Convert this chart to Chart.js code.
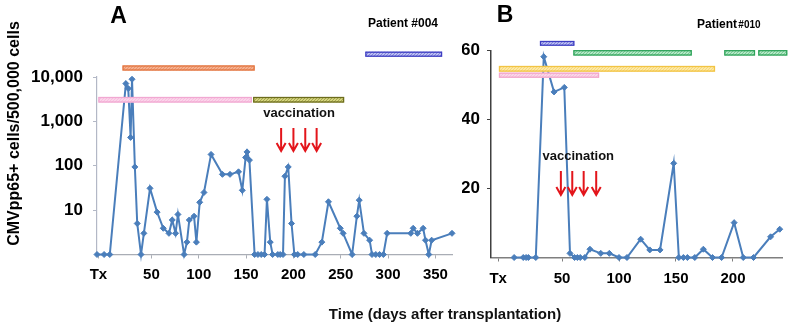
<!DOCTYPE html>
<html><head><meta charset="utf-8">
<script src="https://cdn.jsdelivr.net/npm/chart.js@4.4.1/dist/chart.umd.min.js"></script>
<style>
html,body{margin:0;padding:0;background:#fff;}
#wrap{position:relative;width:793px;height:327px;overflow:hidden;}
#cA{position:absolute;left:0;top:0;}
#cB{position:absolute;left:462px;top:0;}
#xt{position:absolute;top:305px;left:445px;transform:translateX(-50%);font:bold 15px 'Liberation Sans',Arial,sans-serif;white-space:nowrap;color:#111;}
</style></head><body>
<div id="wrap">
<canvas id="cA" width="470" height="327"></canvas>
<canvas id="cB" width="331" height="327"></canvas>
<div id="xt">Time (days after transplantation)</div>
</div>
<script>
// ---------- DATA ----------
// Patient #004 (panel A): day after transplantation, CMVpp65+ cells / 500,000 cells (0 = below detection)
const daysA = [-7.5, 0, 6, 23, 25.5, 28, 29.5, 32.5, 35, 39, 42, 48.5, 56, 62.5, 68.5, 72, 75.5, 78, 84.5, 87.5, 90, 95, 97.5, 101, 105.5, 113, 125, 133, 142, 146, 149.5, 151, 153.5, 159, 162.5, 166, 169.5, 172, 175.5, 178, 183.5, 186, 189, 191, 194.5, 198, 201, 204.5, 211, 223, 230, 237, 249.5, 252.5, 262, 267, 269.5, 274.5, 280.5, 283, 287, 291, 295, 299, 324, 326.5, 331, 337, 339.5, 343, 346, 367.5];
const cellsA = [0, 0, 0, 7100, 5500, 435, 8900, 94, 5, 0, 3, 31, 9, 3.9, 3, 6, 3, 8, 0, 1.9, 6, 7.3, 1.9, 15, 25, 180, 64, 64, 73, 28, 154, 205, 134, 0, 0, 0, 0, 17.5, 1.9, 0, 0, 0, 0, 58, 94, 5, 0, 0, 0, 0, 1.9, 15.4, 3.9, 3, 0, 7.3, 16.8, 3, 2.1, 0, 0, 0, 0, 3, 3, 3.9, 3, 3.9, 2.1, 0, 2.1, 3];
// Patient #010 (panel B)
const daysB = [8, 16, 18.5, 20.5, 27, 34, 43, 52, 57, 61, 63.5, 66, 70, 74.5, 84, 91.5, 100, 107, 119, 127, 136, 148, 152.5, 156.5, 160, 166.5, 174, 182, 190, 201, 209, 218, 233, 241];
const cellsB = [0, 0, 0, 0, 0, 58.2, 48, 49.3, 1.2, 0, 0, 0, 0, 2.4, 1.2, 1.2, 0, 0, 5.3, 2.2, 2.2, 27.3, 0, 0, 0, 0, 2.4, 0, 0, 10.1, 0, 0, 6, 8.2];

const xTickValuesA = [-6, 50, 100, 150, 200, 250, 300, 350];
const xTickLabelsA = ['Tx', '50', '100', '150', '200', '250', '300', '350'];
const yTickValuesA = [10, 100, 1000, 10000];
const yTickLabelsA = ['10', '100', '1,000', '10,000'];
const xTickValuesB = [-6, 50, 100, 150, 200];
const xTickLabelsB = ['Tx', '50', '100', '150', '200'];
const yTickValuesB = [20, 40, 60];
const yTickLabelsB = ['20', '40', '60'];

const vaccineDaysA = [187, 200, 212.5, 224.5];
const vaccineDaysB = [49, 59, 69, 80];

// treatment periods (days)
const therapyStartA = [19.5, -6, 157.5, 276];
const therapyEndA   = [159, 156, 253.5, 357];
const therapyStartB = [30.7, 60, 192.4, 222.2, -5.3, -5.3];
const therapyEndB   = [60.8, 163.8, 219.3, 247.6, 184.2, 82.5];

// ---------- STYLES ----------
const barStyleA = [
  {y: 65.5, h: 5, stroke: '#E2753F', fill: '#F5B090'},
  {y: 97, h: 5.5, stroke: '#F1A8D2', fill: '#FBD4EA'},
  {y: 97, h: 5.5, stroke: '#6C6C1C', fill: '#D5D57E'},
  {y: 51.7, h: 5, stroke: '#3E3EC2', fill: '#BCC0F2'}
];
const barStyleB = [
  {y: 41, h: 4.7, stroke: '#3E3EC2', fill: '#BCC0F2'},
  {y: 50.2, h: 5.3, stroke: '#2FA35A', fill: '#B4E8C6'},
  {y: 50.2, h: 5.3, stroke: '#2FA35A', fill: '#B4E8C6'},
  {y: 50.2, h: 5.3, stroke: '#2FA35A', fill: '#B4E8C6'},
  {y: 66, h: 5.6, stroke: '#F2C443', fill: '#FDE9A6'},
  {y: 72.7, h: 5, stroke: '#F2A6CC', fill: '#FAD6E8'}
];
const lineColor = '#4A7EBB';
const FONT = "'Liberation Sans', Arial, sans-serif";
Chart.defaults.font.family = FONT;

function hatch(ctx, fill, stroke){
  const c = document.createElement('canvas'); c.width = 3; c.height = 3;
  const g = c.getContext('2d');
  g.fillStyle = fill; g.fillRect(0,0,3,3);
  g.globalAlpha = 0.45; g.fillStyle = stroke;
  g.fillRect(0,0,1,1); g.fillRect(1,2,1,1); g.fillRect(2,1,1,1);
  return ctx.createPattern(c, 'repeat');
}

function overlay(o){
  return {
    id: 'ov' + o.name,
    afterDraw(chart){
      const ctx = chart.ctx, xs = chart.scales.x;
      ctx.save();
      // therapy bars
      o.starts.forEach((s, i) => {
        const st = o.styles[i];
        const x0 = xs.getPixelForValue(s), x1 = xs.getPixelForValue(o.ends[i]);
        ctx.fillStyle = hatch(ctx, st.fill, st.stroke);
        ctx.fillRect(x0, st.y, x1 - x0, st.h);
        ctx.strokeStyle = st.stroke; ctx.lineWidth = 1.3;
        ctx.strokeRect(x0 + 0.5, st.y + 0.5, x1 - x0 - 1, st.h - 1);
      });
      // vaccination arrows
      ctx.strokeStyle = '#E3151B'; ctx.lineWidth = 2;
      let sum = 0;
      o.vacc.forEach(d => {
        const x = xs.getPixelForValue(d); sum += x;
        ctx.beginPath();
        ctx.moveTo(x, o.arrowTop); ctx.lineTo(x, o.arrowBottom);
        ctx.moveTo(x - 4.5, o.arrowBottom - 8); ctx.lineTo(x, o.arrowBottom); ctx.lineTo(x + 4.5, o.arrowBottom - 8);
        ctx.stroke();
      });
      ctx.fillStyle = '#111';
      ctx.font = 'bold 13px ' + FONT;
      ctx.textAlign = 'center'; ctx.textBaseline = 'middle';
      ctx.fillText('vaccination', sum / o.vacc.length, o.vaccTextY);
      // panel letter
      ctx.font = 'bold 23px ' + FONT;
      ctx.textBaseline = 'alphabetic';
      ctx.fillStyle = '#000';
      ctx.fillText(o.letter, o.letterX, o.letterY);
      // patient label
      ctx.textAlign = 'left';
      ctx.font = 'bold 12px ' + FONT;
      ctx.fillText('Patient', o.patX, o.patY);
      const w = ctx.measureText('Patient ').width;
      ctx.font = 'bold ' + o.numSize + 'px ' + FONT;
      ctx.fillText(o.patNum, o.patX + w - (o.numSize < 12 ? 2 : 0), o.patY);
      // y axis title
      if (o.ytitle) {
        ctx.translate(19, 133.5);
        ctx.rotate(-Math.PI / 2);
        ctx.textAlign = 'center';
        ctx.font = 'bold 16px ' + FONT;
        ctx.fillText(o.ytitle, 0, 0);
      }
      ctx.restore();
    }
  };
}

function makeScales(p){
  return {
    x: {
      type: 'linear', min: p.xmin, max: p.xmax,
      afterBuildTicks: s => { s.ticks = p.xt.map(v => ({value: v})); },
      afterFit: s => { s.height = p.xh; },
      ticks: {callback: (v, i) => p.xl[i], font: {size: 15, weight: 'bold'}, color: '#000', padding: p.xpad, maxRotation: 0, autoSkip: false},
      grid: {drawOnChartArea: false, drawTicks: true, tickLength: 4, color: p.xcol},
      border: {display: true, color: p.xcol, width: p.xbw}
    },
    y: {
      type: p.ytype, min: p.ymin, max: p.ymax,
      afterBuildTicks: s => { s.ticks = p.yt.map(v => ({value: v})); },
      afterFit: s => { s.width = p.yw; },
      ticks: {callback: (v, i) => p.yl[i], font: {size: 17, weight: 'bold'}, color: '#000', padding: p.ypad, autoSkip: false},
      grid: {drawOnChartArea: false, drawTicks: true, tickLength: 4, color: p.ycol},
      border: {display: true, color: p.ycol, width: p.ybw}
    }
  };
}

function dataset(days, vals, floor){
  return {
    data: days.map((d, i) => ({x: d, y: floor ? Math.max(vals[i], floor) : vals[i]})), // zeros drawn at the log-axis floor
    borderColor: lineColor, backgroundColor: lineColor, borderWidth: 2,
    pointStyle: 'rectRot', pointRadius: 3, pointBorderWidth: 1, tension: 0, clip: false
  };
}

new Chart(document.getElementById('cA'), {
  type: 'line',
  data: {datasets: [dataset(daysA, cellsA, 1)]},
  options: {
    responsive: false, animation: false, events: [],
    layout: {padding: {top: 77, right: 18, left: 0, bottom: 0}},
    plugins: {legend: {display: false}, tooltip: {enabled: false}},
    scales: makeScales({xmin: -7.5, xmax: 367.5, xt: xTickValuesA, xl: xTickLabelsA, xh: 72.5, xpad: 7, xcol: '#A9ADB5', xbw: 1.2,
      ytype: 'logarithmic', ymin: 1, ymax: 10000, yt: yTickValuesA, yl: yTickLabelsA, yw: 97, ypad: 10, ycol: '#B3B8C6', ybw: 1.2})
  },
  plugins: [overlay({name: 'A', starts: therapyStartA, ends: therapyEndA, styles: barStyleA, vacc: vaccineDaysA,
    arrowTop: 128, arrowBottom: 151, vaccTextY: 113, letter: 'A', letterX: 118.5, letterY: 23,
    patX: 368, patY: 27, patNum: '#004', numSize: 12, ytitle: 'CMVpp65+ cells/500,000 cells'})]
});

new Chart(document.getElementById('cB'), {
  type: 'line',
  data: {datasets: [dataset(daysB, cellsB, 0)]},
  options: {
    responsive: false, animation: false, events: [],
    layout: {padding: {top: 50.5, right: 11, left: 0, bottom: 0}},
    plugins: {legend: {display: false}, tooltip: {enabled: false}},
    scales: makeScales({xmin: -12.3, xmax: 243, xt: xTickValuesB, xl: xTickLabelsB, xh: 69.5, xpad: 8, xcol: '#7F7F7F', xbw: 1.5,
      ytype: 'linear', ymin: 0, ymax: 60, yt: yTickValuesB, yl: yTickLabelsB, yw: 29, ypad: 7, ycol: '#404040', ybw: 1.5})
  },
  plugins: [overlay({name: 'B', starts: therapyStartB, ends: therapyEndB, styles: barStyleB, vacc: vaccineDaysB,
    arrowTop: 171, arrowBottom: 195, vaccTextY: 156, letter: 'B', letterX: 43, letterY: 22,
    patX: 235, patY: 28, patNum: '#010', numSize: 10, ytitle: null})]
});
</script>
</body></html>
